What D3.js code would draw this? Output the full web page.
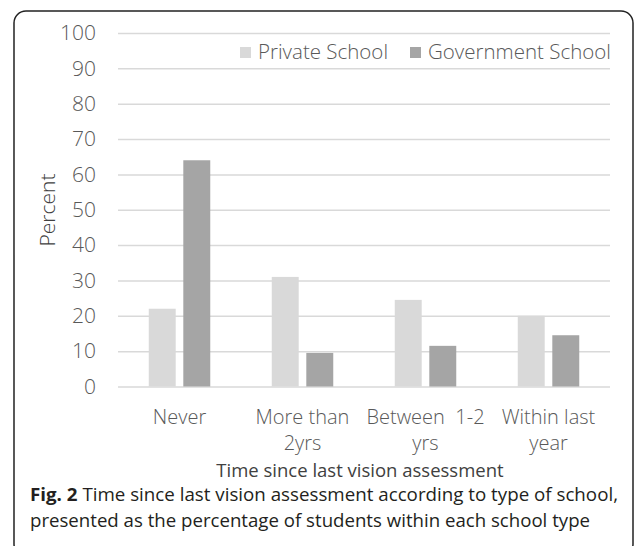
<!DOCTYPE html>
<html>
<head>
<meta charset="utf-8">
<script src="https://cdn.jsdelivr.net/npm/d3@7"></script>
<style>
  body { margin: 0; background: #fff; }
  svg text { font-family: "Open Sans", sans-serif; }
</style>
</head>
<body>
<div id="chart"></div>
<script>
// data
var categories = [["Never"], ["More than", "2yrs"], ["Between  1-2", "yrs"], ["Within last", "year"]];
var seriesNames = ["Private School", "Government School"];
var privateValues = [22, 31, 24.5, 20];
var governmentValues = [64, 9.5, 11.5, 14.5];
var yTicks = [0, 10, 20, 30, 40, 50, 60, 70, 80, 90, 100];
var colors = ["#d9d9d9", "#a5a5a5"];

var width = 635, height = 546;
var svg = d3.select("#chart").append("svg")
    .attr("width", width)
    .attr("height", height);

// frame
svg.append("rect")
    .attr("x", 14).attr("y", 11)
    .attr("width", 619).attr("height", 545)
    .attr("rx", 12).attr("ry", 12)
    .style("fill", "none")
    .style("stroke", "#222")
    .style("stroke-width", 1.5);

var plot = { left: 118, right: 610, top: 33, bottom: 386.5 };

var y = d3.scaleLinear().domain([0, 100]).range([plot.bottom, plot.top]);
var x0 = d3.scaleBand()
    .domain(d3.range(categories.length))
    .range([plot.left, plot.right])
    .paddingInner(0.5)
    .paddingOuter(0.25);
var x1 = d3.scaleBand()
    .domain(d3.range(seriesNames.length))
    .range([0, x0.bandwidth()])
    .paddingInner(0.22);

// gridlines + tick labels
var yAxis = d3.axisLeft(y)
    .tickValues(yTicks)
    .tickSize(-(plot.right - plot.left))
    .tickPadding(22);

var gy = svg.append("g")
    .attr("transform", "translate(" + plot.left + ",0)")
    .call(yAxis);
gy.select(".domain").remove();
gy.selectAll(".tick line")
    .style("stroke", "#d9d9d9")
    .style("stroke-width", 1.5);
gy.selectAll(".tick text")
    .style("font-size", "21px")
    .style("font-weight", 300)
    .style("fill", "#595959");

// bars
var rows = categories.map(function(c, i) {
  return [privateValues[i], governmentValues[i]];
});

var groups = svg.selectAll(".group")
    .data(rows)
    .enter().append("g")
    .attr("class", "group")
    .attr("transform", function(d, i) { return "translate(" + x0(i) + ",0)"; });

groups.selectAll("rect")
    .data(function(d) { return d; })
    .enter().append("rect")
    .attr("x", function(d, j) { return x1(j); })
    .attr("y", function(d) { return y(d); })
    .attr("width", x1.bandwidth())
    .attr("height", function(d) { return y(0) - y(d); })
    .style("fill", function(d, j) { return colors[j]; });

// category labels
var labels = svg.selectAll(".cat")
    .data(categories)
    .enter().append("text")
    .attr("class", "cat")
    .attr("text-anchor", "middle")
    .attr("y", 424)
    .style("font-size", "20px")
    .style("font-weight", 300)
    .style("fill", "#595959")
    .style("white-space", "pre");

labels.selectAll("tspan")
    .data(function(d, i) { return d.map(function(t) { return { t: t, i: i }; }); })
    .enter().append("tspan")
    .attr("x", function(d) { return x0(d.i) + x0.bandwidth() / 2; })
    .attr("dy", function(d, k) { return k === 0 ? 0 : 26; })
    .text(function(d) { return d.t; });

// axis titles
svg.append("text")
    .attr("x", 360)
    .attr("y", 477)
    .attr("text-anchor", "middle")
    .style("font-size", "18.5px")
    .style("fill", "#404040")
    .text("Time since last vision assessment");

svg.append("text")
    .attr("transform", "translate(55,210) rotate(-90)")
    .attr("text-anchor", "middle")
    .style("font-size", "21px")
    .style("font-weight", 300)
    .style("fill", "#404040")
    .text("Percent");

// legend
var legendX = [240, 410];
var legend = svg.selectAll(".legend")
    .data(seriesNames)
    .enter().append("g")
    .attr("class", "legend")
    .attr("transform", function(d, i) { return "translate(" + legendX[i] + ",47)"; });

legend.append("rect")
    .attr("width", 11).attr("height", 11)
    .style("fill", function(d, i) { return colors[i]; });

legend.append("text")
    .attr("x", 18)
    .attr("y", 12)
    .style("font-size", "20.5px")
    .style("font-weight", 300)
    .style("fill", "#595959")
    .text(function(d) { return d; });

// caption
var cap1 = svg.append("text")
    .attr("x", 30).attr("y", 501)
    .attr("textLength", 588)
    .attr("lengthAdjust", "spacingAndGlyphs")
    .style("font-size", "18px")
    .style("fill", "#231f20");
cap1.append("tspan").style("font-weight", 700).text("Fig. 2");
cap1.append("tspan").text(" Time since last vision assessment according to type of school,");

svg.append("text")
    .attr("x", 30).attr("y", 527)
    .attr("textLength", 560)
    .attr("lengthAdjust", "spacingAndGlyphs")
    .style("font-size", "18px")
    .style("fill", "#231f20")
    .text("presented as the percentage of students within each school type");
</script>
</body>
</html>
